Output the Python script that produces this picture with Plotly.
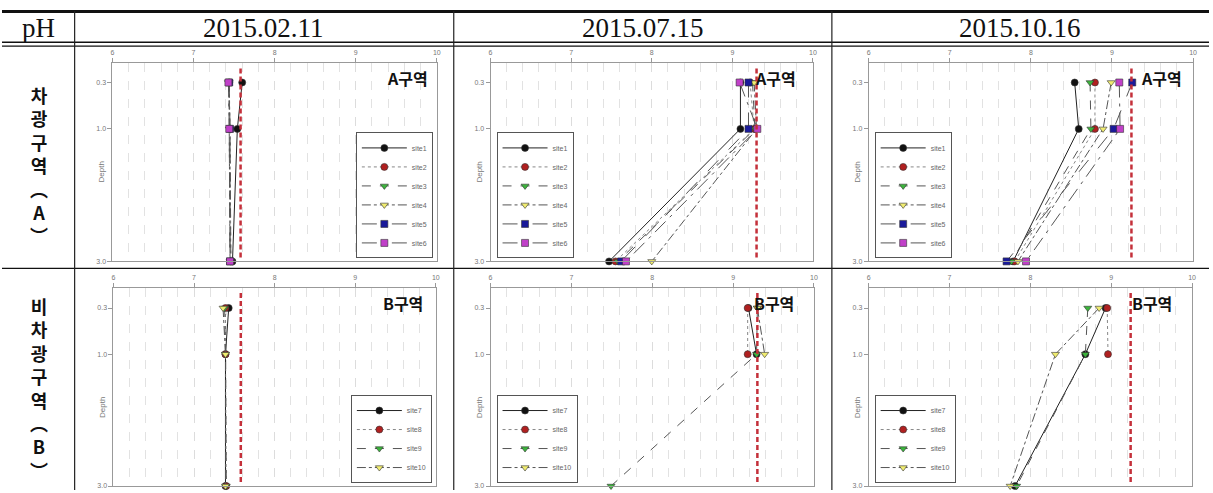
import plotly.graph_objects as go

# ---------------- data ----------------
depths = [0.3, 1.0, 3.0]
depth_ticks = ["0.3", "1.0", "3.0"]
ph_ticks = [6, 7, 8, 9, 10]
dates = ["2015.02.11", "2015.07.15", "2015.10.16"]
zone_labels = ["A구역", "B구역"]
row_labels = ["차<br>광<br>구<br>역<br>︵<br>A<br>︶", "비<br>차<br>광<br>구<br>역<br>︵<br>B<br>︶"]
sites_A = ["site1", "site2", "site3", "site4", "site5", "site6"]
sites_B = ["site7", "site8", "site9", "site10"]
ref_ph = [7.58, 9.30, 9.24]   # red dashed reference line per date

A_0211 = [[7.60, 7.54, 7.48], [7.44, 7.45, 7.46], [7.43, 7.45, 7.46],
          [7.44, 7.44, 7.45], [7.44, 7.45, 7.45], [7.43, 7.44, 7.45]]
A_0715 = [[9.10, 9.10, 7.47], [9.22, 9.27, 7.55], [9.25, 9.28, 7.58],
          [9.27, 9.30, 8.00], [9.20, 9.20, 7.62], [9.09, 9.31, 7.68]]
A_1016 = [[8.54, 8.59, 7.78], [8.79, 8.79, 7.80], [8.73, 8.74, 7.76],
          [8.99, 8.89, 7.84], [9.25, 9.02, 7.70], [9.09, 9.10, 7.94]]
B_0211 = [[7.43, 7.39, 7.39], [7.39, 7.39, 7.40], [7.38, 7.39, 7.40],
          [7.36, 7.39, 7.39]]
B_0715 = [[9.19, 9.29, None], [9.18, 9.18, None], [9.30, 9.29, 7.49],
          [9.30, 9.39, None]]
B_1016 = [[8.93, 8.68, 7.81], [8.95, 8.96, None], [8.71, 8.68, 7.83],
          [8.85, 8.31, 7.75]]

# ---------------- styles ----------------
W, H = 1213, 493
styleA = [
    dict(sym="circle", col="#111111", lc="#222222", dash="solid"),
    dict(sym="circle", col="#b02020", lc="#888888", dash="dot"),
    dict(sym="triangle-down", col="#3cb43c", lc="#555555", dash="dash"),
    dict(sym="triangle-down", col="#f0ec70", lc="#555555", dash="dashdot"),
    dict(sym="square", col="#1a1a9a", lc="#555555", dash="longdash"),
    dict(sym="square", col="#c040c8", lc="#555555", dash="longdashdot"),
]
styleB = styleA[:4]

# panel frames in pixels: (left, right, top, bottom)
frames = [(111, 437, 63, 263), (491, 815, 63, 263), (871, 1197, 63, 263),
          (112, 436, 290, 489), (491, 816, 290, 489), (871, 1196, 290, 489)]
panel_data = [A_0211, A_0715, A_1016, B_0211, B_0715, B_1016]
legend_pos = ["br", "bl", "bl", "br", "bl", "bl"]
zone_offset = [7, 15, 9, 11, 18, 18]

def px(x):
    return x / W

def py(y):
    return 1 - y / H

fig = go.Figure()
shapes = []
annotations = []
layout = {}

for i, (fr, data) in enumerate(zip(frames, panel_data)):
    k = i + 1
    row_A = i < 3
    names = sites_A if row_A else sites_B
    styles = styleA if row_A else styleB
    xa = "x" if k == 1 else f"x{k}"
    ya = "y" if k == 1 else f"y{k}"
    lg = "legend" if k == 1 else f"legend{k}"
    for name, vals, st in zip(names, data, styles):
        fig.add_trace(go.Scatter(
            x=vals, y=depths, mode="lines+markers", name=name,
            xaxis=xa, yaxis=ya, legend=lg, cliponaxis=False,
            line=dict(color=st["lc"], dash=st["dash"], width=1),
            marker=dict(symbol=st["sym"], color=st["col"], size=7,
                        line=dict(color="#333333", width=0.6)),
        ))
    l, r, t, b = fr
    layout[f"xaxis{k}"] = dict(
        domain=[px(l), px(r)], range=[6, 10], side="top", anchor=ya,
        tickvals=ph_ticks, ticks="outside", ticklen=4, tickcolor="#999",
        tickfont=dict(size=7, color="#777", family="Liberation Sans"),
        showline=True, linecolor="#999", linewidth=1, mirror=True,
        showgrid=True, gridcolor="#dcdcdc", griddash="dash", gridwidth=1,
        minor=dict(dtick=0.2, showgrid=True, gridcolor="#e2e2e2",
                   griddash="dash", gridwidth=1),
        zeroline=False, fixedrange=True,
    )
    layout[f"yaxis{k}"] = dict(
        domain=[py(b), py(t)], range=[3, 0], anchor=xa,
        tickvals=depths, ticktext=depth_ticks, ticks="outside", ticklen=4,
        tickcolor="#999", tickfont=dict(size=7, color="#777", family="Liberation Sans"),
        showline=True, linecolor="#999", linewidth=1, mirror=True,
        showgrid=False, zeroline=False, fixedrange=True,
    )
    # legend
    if legend_pos[i] == "br":
        lx, xan = px(r - 4), "right"
    else:
        lx, xan = px(l + 6), "left"
    layout[lg] = dict(
        x=lx, y=py(b - 3), xanchor=xan, yanchor="bottom", xref="paper", yref="paper",
        bgcolor="white", bordercolor="#555", borderwidth=1,
        font=dict(size=7, color="#666", family="Liberation Sans"),
        itemwidth=45, tracegroupgap=0,
    )
    # reference line
    shapes.append(dict(
        type="line", xref=xa, yref=f"{ya} domain", x0=ref_ph[i % 3], x1=ref_ph[i % 3],
        y0=0.02, y1=0.985, line=dict(color="#c4303a", width=2.5, dash="5px,3px"),
    ))
    # zone label
    annotations.append(dict(
        x=px(r - zone_offset[i]), y=py(t + 15), xref="paper", yref="paper",
        xanchor="right", yanchor="middle", showarrow=False,
        text=f"<b>{zone_labels[0] if row_A else zone_labels[1]}</b>",
        font=dict(size=16, color="#111", family="Noto Sans CJK KR"),
    ))
    # Depth label
    annotations.append(dict(
        x=px(l - 11), y=py(t + (110 if row_A else 120)), xref="paper", yref="paper",
        xanchor="center", yanchor="middle", showarrow=False, textangle=-90,
        text="Depth", font=dict(size=8, color="#777", family="Liberation Sans"),
    ))

# ---------------- table frame ----------------
def hline(y, x0, x1, w):
    shapes.append(dict(type="line", xref="paper", yref="paper",
                       x0=px(x0), x1=px(x1), y0=py(y), y1=py(y),
                       line=dict(color="#111", width=w)))

def vline(x, y0, y1, w):
    shapes.append(dict(type="line", xref="paper", yref="paper",
                       x0=px(x), x1=px(x), y0=py(y0), y1=py(y1),
                       line=dict(color="#222", width=w)))

hline(11.5, 0, W, 3)
hline(42.5, 0, W, 1.3)
hline(46.5, 0, W, 1.3)
hline(270, 0, W, 1.2)
for xs in [73, 454, 834]:
    vline(xs, 11, H, 1.2)

# header texts
annotations.append(dict(x=px(37), y=py(28), xref="paper", yref="paper",
                        text="pH", showarrow=False, xanchor="center", yanchor="middle",
                        font=dict(size=27, color="#111", family="Liberation Serif")))
for cx, d in zip([263, 644, 1023], dates):
    annotations.append(dict(x=px(cx), y=py(28), xref="paper", yref="paper",
                            text=d, showarrow=False, xanchor="center", yanchor="middle",
                            font=dict(size=27, color="#111", family="Liberation Serif")))

# row labels (vertical stacked characters)
for txt, cy in zip(row_labels, [166, 390]):
    annotations.append(dict(x=px(37), y=py(cy), xref="paper", yref="paper",
                            text=f"<b>{txt}</b>", showarrow=False,
                            xanchor="center", yanchor="middle", align="center",
                            font=dict(size=18, color="#111", family="Noto Sans CJK KR")))

fig.update_layout(
    width=W, height=H, margin=dict(l=0, r=0, t=0, b=0),
    paper_bgcolor="white", plot_bgcolor="white",
    shapes=shapes, annotations=annotations, showlegend=True,
    **layout,
)

fig.write_html("out.html", config={"displayModeBar": False},
               post_script="document.body.style.margin='0';document.body.style.padding='0';")
